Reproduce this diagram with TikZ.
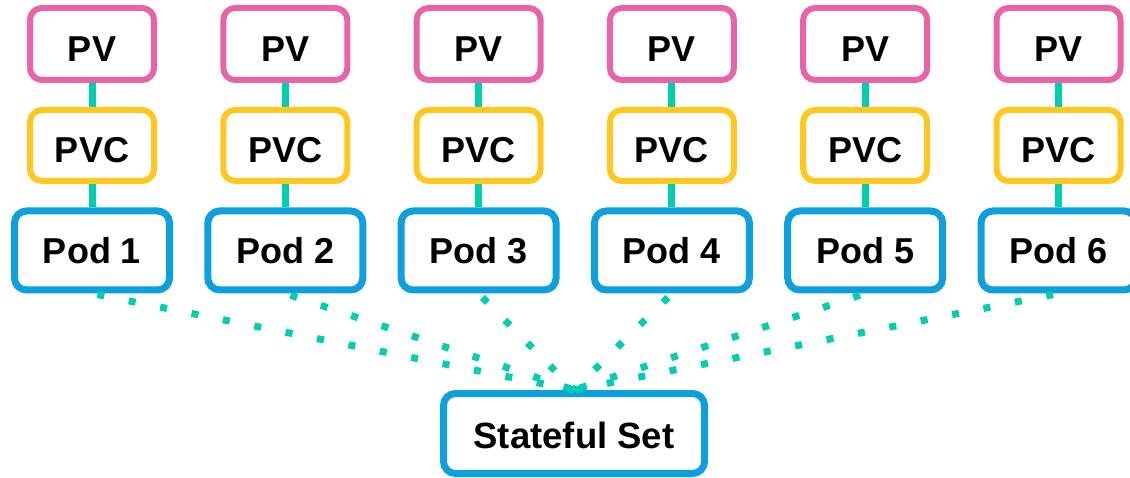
\documentclass[tikz,border=0pt]{standalone}
\usepackage{fontspec}
\setmainfont{Liberation Sans}
\usetikzlibrary{backgrounds}
\definecolor{pvpink}{HTML}{E963A9}
\definecolor{pvcyellow}{HTML}{FFC71F}
\definecolor{podblue}{HTML}{0EA0DC}
\definecolor{linkteal}{HTML}{00CFAF}
\tikzset{
  box/.style={rectangle, rounded corners=12pt, fill=white, inner sep=0pt,
    font=\fontsize{36}{40}\selectfont\bfseries, text depth=0pt},
  pvbox/.style={box, draw=pvpink, line width=6pt, minimum width=124pt,
    minimum height=72pt, text height=35pt},
  pvcbox/.style={box, draw=pvcyellow, line width=6pt, minimum width=124pt,
    minimum height=71pt, text height=35pt},
  podbox/.style={box, draw=podblue, line width=7pt, minimum width=155pt,
    minimum height=79pt, text height=26pt},
  setbox/.style={box, draw=podblue, line width=7pt, minimum width=261pt,
    minimum height=80pt, text height=29pt,
    font=\fontsize{36.5}{40}\selectfont\bfseries},
  solidlink/.style={draw=linkteal, line width=7pt},
  dotlink/.style={draw=linkteal, line width=7pt,
    dash pattern=on 7pt off 25pt, dash phase=26.5pt}
}
\begin{document}
\begin{tikzpicture}[x=1pt,y=-1pt]
  \useasboundingbox (0,0) rectangle (1130,478);
  \clip (0,0) rectangle (1130,478);
  \foreach \i in {1,...,6} {
    \pgfmathsetmacro{\cx}{92+(\i-1)*193.3}
    \node[pvbox]  (pv\i)  at (\cx,44)    {PV};
    \node[pvcbox] (pvc\i) at (\cx,145.5) {PVC};
    \node[podbox] (pod\i) at (\cx,250.5) {Pod \i};
    \begin{scope}[on background layer]
      \draw[solidlink] (pv\i.south) -- (pvc\i.north);
      \draw[solidlink] (pvc\i.south) -- (pod\i.north);
    \end{scope}
  }
  \node[setbox] (sset) at (574,433.5) {Stateful Set};
  \foreach \i in {1,...,6} {
    \draw[dotlink] (pod\i.south) -- (sset.north);
  }
\end{tikzpicture}
\end{document}
